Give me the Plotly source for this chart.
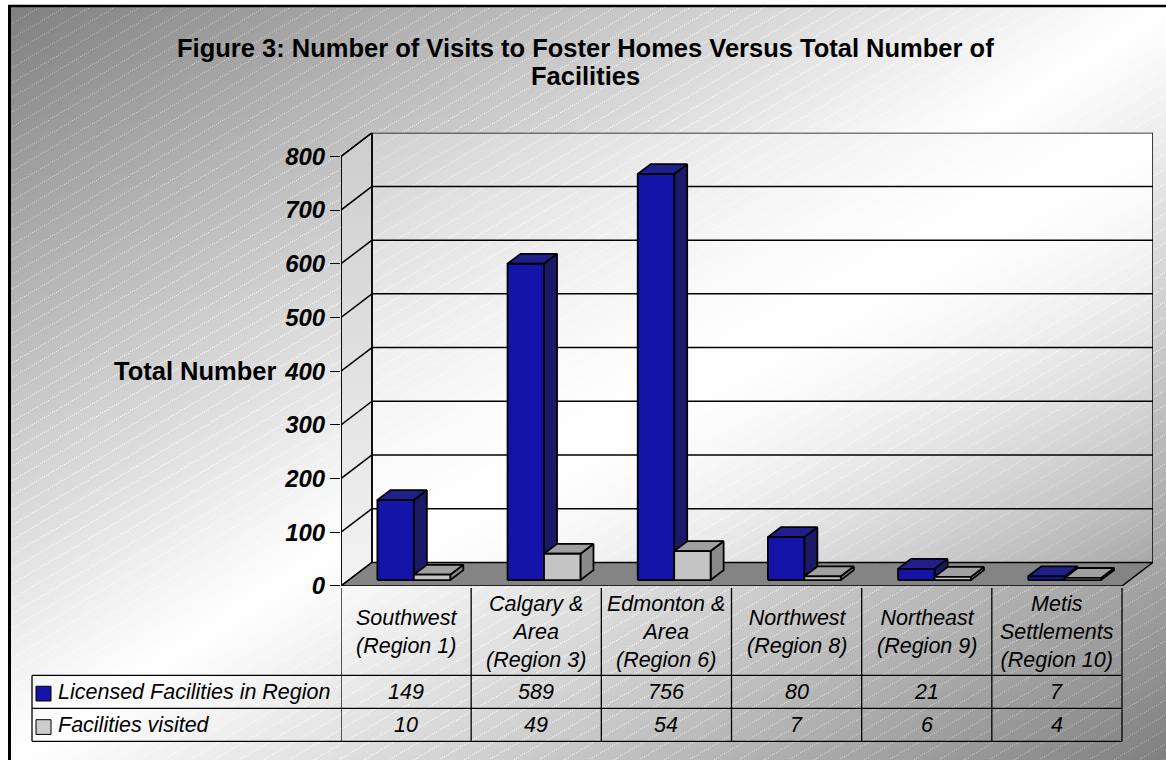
import numpy as np
import zlib, struct, base64
import plotly.graph_objects as go

# ---------------- data ----------------
categories = ["Southwest<br>(Region 1)", "Calgary &<br>Area<br>(Region 3)", "Edmonton &<br>Area<br>(Region 6)",
              "Northwest<br>(Region 8)", "Northeast<br>(Region 9)", "Metis<br>Settlements<br>(Region 10)"]
series_names = ["Licensed Facilities in Region", "Facilities visited"]
licensed = [149, 589, 756, 80, 21, 7]
visited = [10, 49, 54, 7, 6, 4]
y_ticks = [0, 100, 200, 300, 400, 500, 600, 700, 800]
title_lines = ["Figure 3: Number of Visits to Foster Homes Versus Total Number of", "Facilities"]
y_title = "Total Number"

# ---------------- geometry / style ----------------
W, H = 1166, 773
FONT = "Liberation Sans, Arial, sans-serif"
X_LEFT_PX, X_RIGHT_PX = 341, 1153
Y_ZERO_PX, Y_TOP_PX = 596, 135
NCAT = len(categories)
PX_PER_CAT = 130.17
DX = 31 / PX_PER_CAT
YMAX = 800
PX_PER_UNIT = (Y_ZERO_PX - 24 - Y_TOP_PX) / YMAX
DY = 24 / PX_PER_UNIT
D0, D1 = 0.25, 0.67
BW = 0.28


def px(p):
    return p / W


def py(p):
    return 1 - p / H


def to_png(a):
    a = np.clip(a, 0, 255).astype(np.uint8)
    h, w = a.shape
    raw = b"".join(b"\x00" + a[r].tobytes() for r in range(h))

    def chunk(t, d):
        c = struct.pack(">I", len(d)) + t + d
        return c + struct.pack(">I", zlib.crc32(t + d) & 0xffffffff)

    png = (b"\x89PNG\r\n\x1a\n" + chunk(b"IHDR", struct.pack(">IIBBBBB", w, h, 8, 0, 0, 0, 0))
           + chunk(b"IDAT", zlib.compress(raw, 9)) + chunk(b"IEND", b""))
    return "data:image/png;base64," + base64.b64encode(png).decode()


# figure background: diagonal gradient with light dotted hatch
yy, xx = np.mgrid[0:H, 0:W].astype(float)
s = (xx - 10) / (W - 10) + (yy - 7) / (H - 7)
bg = 255 - 127 * np.abs(s - 1) ** 1.1
hatch = (((yy + 0.6 * xx) % 15) < 1.0) & ((xx.astype(int) % 2) == 0)
bg = np.where(hatch, np.minimum(255, bg + 45), bg)
bg = np.where((xx < 9) | (yy < 6), 255, bg)
bg_uri = to_png(bg)

# back wall gradient
ww, wh = 781, 437
wy, wx = np.mgrid[0:wh, 0:ww].astype(float)
ws = wx / (ww - 1) + wy / (wh - 1)
lo = np.where(ws < 1, 208, 169)
wall = 255 - (255 - lo) * np.abs(ws - 1) ** 1.5
gx, gy = wx + 372, wy + 135
wh_hatch = (((gy + 0.6 * gx) % 15) < 1.0) & ((gx.astype(int) % 2) == 0)
wall = np.where(wh_hatch, np.minimum(255, wall + 22), wall)
wall_uri = to_png(wall)


def P(x, y, d):
    return x + d * DX, y + d * DY


def poly_trace(polys, fill, lw=1.8, **kw):
    xs, ys = [], []
    for pts in polys:
        pts = list(pts) + [pts[0]]
        for (a, b) in pts:
            xs.append(a)
            ys.append(b)
        xs.append(None)
        ys.append(None)
    return go.Scatter(x=xs, y=ys, mode="lines", fill="toself", fillcolor=fill,
                      line=dict(color="black", width=lw), hoverinfo="skip", showlegend=False, **kw)


def line_trace(segs, lw=1.5, color="black"):
    xs, ys = [], []
    for (a, b) in segs:
        xs += [a[0], b[0], None]
        ys += [a[1], b[1], None]
    return go.Scatter(x=xs, y=ys, mode="lines", line=dict(color=color, width=lw),
                      hoverinfo="skip", showlegend=False)


fig = go.Figure()

xl, xr = -0.5, NCAT - 0.5

# side wall
fig.add_trace(go.Scatter(
    x=[xl, xl + DX, xl + DX, xl, xl], y=[0, DY, YMAX + DY, YMAX, 0],
    mode="lines", fill="toself", line=dict(color="black", width=1.5),
    fillgradient=dict(type="vertical", colorscale=[[0, "#f4f4f4"], [1, "#cdcdcd"]], start=0, stop=YMAX + DY),
    hoverinfo="skip", showlegend=False))

# gridlines
segs = []
for v in y_ticks[1:]:
    segs.append(((xl, v), (xl + DX, v + DY)))
    segs.append(((xl + DX, v + DY), (xr + DX, v + DY)))
segs.append(((xl + DX, DY), (xl + DX, YMAX + DY)))
segs.append(((xr + DX, DY), (xr + DX, YMAX + DY)))
segs.append(((xl, 0), (xl, YMAX)))
fig.add_trace(line_trace(segs, lw=1.5))

# floor
fig.add_trace(poly_trace([[(xl, 0), (xr, 0), (xr + DX, DY), (xl + DX, DY)]], "#848484", lw=1.5))

# bars
series = [
    (licensed, -BW, 0.0, "#1414a8", "#20208c", "#1a1a68"),
    (visited, 0.0, BW, "#c4c4c4", "#a0a0a0", "#8a8a8a"),
]
for vals, o0, o1, cfront, ctop, cside in series:
    fronts, tops, sides = [], [], []
    for i, v in enumerate(vals):
        x0, x1 = i + o0, i + o1
        fronts.append([P(x0, 0, D0), P(x1, 0, D0), P(x1, v, D0), P(x0, v, D0)])
        tops.append([P(x0, v, D0), P(x1, v, D0), P(x1, v, D1), P(x0, v, D1)])
        sides.append([P(x1, 0, D0), P(x1, 0, D1), P(x1, v, D1), P(x1, v, D0)])
    fig.add_trace(poly_trace(sides, cside))
    fig.add_trace(poly_trace(tops, ctop))
    fig.add_trace(poly_trace(fronts, cfront))

# ---------------- layout ----------------
shapes = []
# outer border (left + top)
shapes.append(dict(type="line", xref="paper", yref="paper", x0=px(9.5), x1=px(9.5), y0=py(5), y1=py(H),
                   line=dict(color="black", width=3)))
shapes.append(dict(type="line", xref="paper", yref="paper", x0=px(8), x1=1, y0=py(6), y1=py(6),
                   line=dict(color="black", width=2.5)))
# table
T_TOP, T_H1, T_H2, T_BOT, T_LEFT = 598, 687, 720.5, 754, 32
for i in range(NCAT + 1):
    shapes.append(dict(type="line", xref="x", yref="paper", x0=xl + i, x1=xl + i, y0=py(T_TOP), y1=py(T_BOT),
                       line=dict(color="black", width=1.3)))
for yv in [T_H1, T_H2, T_BOT]:
    shapes.append(dict(type="line", xref="paper", yref="paper", x0=px(T_LEFT), x1=px(1122), y0=py(yv), y1=py(yv),
                       line=dict(color="black", width=1.3)))
shapes.append(dict(type="line", xref="paper", yref="paper", x0=px(T_LEFT), x1=px(T_LEFT), y0=py(T_H1), y1=py(T_BOT),
                   line=dict(color="black", width=1.3)))
# legend swatches
for (y0s, col) in [(698, "#1414a8"), (732, "#cccccc")]:
    shapes.append(dict(type="rect", xref="paper", yref="paper", x0=px(36), x1=px(51), y0=py(y0s), y1=py(y0s + 15),
                       fillcolor=col, line=dict(color="black", width=1)))

annotations = []
for line, yv in zip(title_lines, [49, 77.5]):
    annotations.append(dict(text=line, xref="paper", yref="paper", x=px(585), y=py(yv),
                            showarrow=False, xanchor="center", yanchor="middle",
                            font=dict(family=FONT, size=25.5, color="black", weight="bold")))
annotations.append(dict(text=y_title, xref="paper", yref="y", x=px(279), y=400, showarrow=False,
                        xanchor="right", yanchor="middle",
                        font=dict(family=FONT, size=25.5, color="black", weight="bold")))
tf = dict(family=FONT, size=21.5, color="black", style="italic")
for i, c in enumerate(categories):
    annotations.append(dict(text=c, xref="x", yref="paper", x=i, y=py(643), showarrow=False,
                            xanchor="center", yanchor="middle", font=tf))
    annotations.append(dict(text=str(licensed[i]), xref="x", yref="paper", x=i, y=py(704), showarrow=False,
                            xanchor="center", yanchor="middle", font=tf))
    annotations.append(dict(text=str(visited[i]), xref="x", yref="paper", x=i, y=py(737.5), showarrow=False,
                            xanchor="center", yanchor="middle", font=tf))
for name, yv in zip(series_names, [704, 737.5]):
    annotations.append(dict(text=name, xref="paper", yref="paper", x=px(56), y=py(yv), showarrow=False,
                            xanchor="left", yanchor="middle", font=tf))

images = [
    dict(source=bg_uri, xref="paper", yref="paper", x=0, y=1, sizex=1, sizey=1,
         xanchor="left", yanchor="top", sizing="stretch", layer="below"),
    dict(source=wall_uri, xref="x", yref="y", x=xl + DX, y=YMAX + DY, sizex=NCAT, sizey=YMAX,
         xanchor="left", yanchor="top", sizing="stretch", layer="below"),
]

fig.update_layout(
    width=W, height=H, margin=dict(l=0, r=0, t=0, b=0),
    paper_bgcolor="white", plot_bgcolor="rgba(0,0,0,0)",
    xaxis=dict(domain=[px(X_LEFT_PX), px(X_RIGHT_PX)], range=[xl, xr + DX], visible=False, fixedrange=True),
    yaxis=dict(domain=[py(Y_ZERO_PX), py(Y_TOP_PX)], range=[0, YMAX + DY], showgrid=False, zeroline=False,
               showline=False, tickvals=y_ticks, ticktext=[str(t) for t in y_ticks], ticks="outside",
               ticklen=10, tickwidth=1.2, tickcolor="black",
               tickfont=dict(family=FONT, size=24, color="black", weight="bold", style="italic"),
               fixedrange=True),
    shapes=shapes, annotations=annotations, images=images, showlegend=False,
)

fig.write_html("out.html", config={"displayModeBar": False})
